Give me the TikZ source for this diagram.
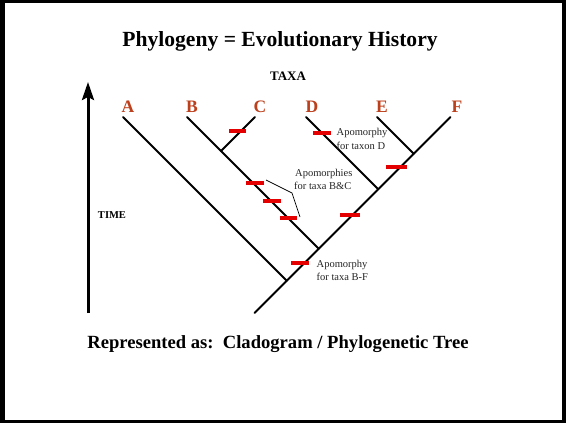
\documentclass[tikz,border=0pt]{standalone}
\usepackage{fontspec}
\setmainfont{Liberation Serif}
\usetikzlibrary{arrows.meta}
\definecolor{taxon}{RGB}{188,64,28}
\definecolor{apored}{RGB}{228,0,0}
\tikzset{
  branch/.style={line width=1.9pt, line cap=round},
  taxlab/.style={font=\fontsize{17.5}{20}\selectfont\bfseries, text=taxon, anchor=base, inner sep=0pt},
  note/.style={font=\fontsize{10.5}{12}\selectfont, anchor=base west, inner sep=0pt, text=black!85},
  bar/.style={fill=apored, draw=none},
  big/.style={font=\bfseries, anchor=base, inner sep=0pt}
}
\begin{document}
\begin{tikzpicture}[x=1pt,y=-1pt]
% frame
\fill[black] (0,0) rectangle (566,423);
\fill[white] (5,3) rectangle (562,420);
\useasboundingbox (0,0) rectangle (566,423);

% titles
\node[big, font=\fontsize{21.6}{24}\selectfont\bfseries] (title) at (280,46) {Phylogeny = Evolutionary History};
\node[big, font=\fontsize{13}{15}\selectfont\bfseries] (taxa) at (288,80) {TAXA};
\node[big, font=\fontsize{10.5}{12}\selectfont\bfseries] (time) at (112,218) {TIME};
\node[big, font=\fontsize{18.6}{22}\selectfont\bfseries] (repr) at (278,348) {Represented as:\ \ Cladogram / Phylogenetic Tree};

% time arrow
\coordinate (tbot) at (88,313);
\coordinate (ttop) at (88,82);
\draw[line width=3pt, -{Stealth[length=18pt, width=12pt, inset=3pt]}] (tbot) -- (ttop);

% taxa labels
\node[taxlab] (A) at (128,112.5) {A};
\node[taxlab] (B) at (192,112.5) {B};
\node[taxlab] (C) at (260,112.5) {C};
\node[taxlab] (D) at (312,112.5) {D};
\node[taxlab] (E) at (382,112.5) {E};
\node[taxlab] (F) at (457,112.5) {F};

% tree coordinates
\coordinate (tA) at (123,117);
\coordinate (tB) at (187,117);
\coordinate (tC) at (255,117);
\coordinate (tD) at (306,117);
\coordinate (tE) at (377,117);
\coordinate (tF) at (450.5,117);
\coordinate (root) at (254.5,313);
\coordinate (jA) at (286.75,280.75);
\coordinate (jB) at (318.75,248.75);
\coordinate (jC) at (221,151);
\coordinate (jD) at (378.25,189.25);
\coordinate (jE) at (413.75,153.75);

\draw[branch] (root) -- (tF);
\draw[branch] (tA) -- (jA);
\draw[branch] (tB) -- (jB);
\draw[branch] (tC) -- (jC);
\draw[branch] (tD) -- (jD);
\draw[branch] (tE) -- (jE);

% apomorphy bars
\fill[bar] (228.5,129) rectangle (246,133);
\fill[bar] (313,131) rectangle (330.5,135);
\fill[bar] (246,181) rectangle (263.5,185);
\fill[bar] (263,199) rectangle (281,203);
\fill[bar] (279.5,216) rectangle (297,220);
\fill[bar] (386,165) rectangle (407,169);
\fill[bar] (339.5,213) rectangle (360,217);
\fill[bar] (291,261) rectangle (309,265);

% callout
\coordinate (c1) at (266,180);
\coordinate (c2) at (292,193);
\coordinate (c3) at (300,217);
\draw[line width=0.7pt] (c1) -- (c2) -- (c3);

% notes
\node[note] (nD1) at (336.5,135) {Apomorphy};
\node[note] (nD2) at (336.5,149) {for taxon D};
\node[note] (nBC1) at (295,176) {Apomorphies};
\node[note] (nBC2) at (294,189) {for taxa B\&C};
\node[note] (nBF1) at (316.5,267) {Apomorphy};
\node[note] (nBF2) at (316.5,280) {for taxa B-F};
\end{tikzpicture}
\end{document}
